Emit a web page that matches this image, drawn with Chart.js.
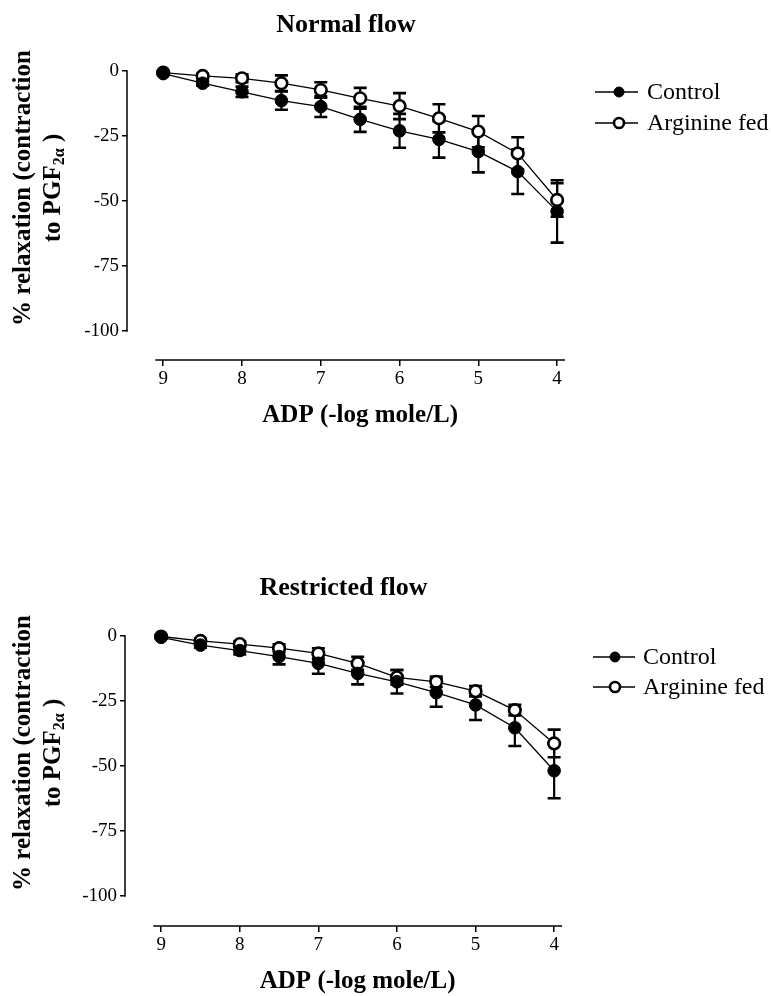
<!DOCTYPE html>
<html>
<head>
<meta charset="utf-8">
<script src="https://cdn.jsdelivr.net/npm/chart.js@4.4.1/dist/chart.umd.min.js"></script>
<style>
  html, body { margin: 0; padding: 0; background: #fff; overflow: hidden; }
  #wrap { position: relative; width: 771px; height: 996px; }
  canvas { position: absolute; left: 0; }
</style>
</head>
<body>
<div id="wrap">
  <canvas id="normalChart" width="771" height="498" style="top:0"></canvas>
  <canvas id="restrictedChart" width="771" height="520" style="top:498px"></canvas>
</div>
<script>
// ADP concentration, -log mole/L
const adpLevels = [9, 8.5, 8, 7.5, 7, 6.5, 6, 5.5, 5, 4.5, 4];
const xTicks = [9, 8, 7, 6, 5, 4];
const yTicks = [0, -25, -50, -75, -100];
const seriesNames = ['Control', 'Arginine fed'];

// normal flow (% relaxation, mean and SEM)
const normalControl = [-1, -4.7, -8, -11.4, -13.7, -18.6, -23, -26.3, -31, -38.7, -54];
const normalControlErr = [0.5, 1, 2, 3.5, 4, 4.8, 6.5, 7, 8, 8.6, 12];
const normalArginine = [-0.6, -1.9, -2.8, -4.7, -7.3, -10.5, -13.5, -18.2, -23.3, -31.7, -49.6];
const normalArginineErr = [0.5, 0.8, 1.5, 3, 3, 4, 5, 5.4, 6, 6.2, 6.4];

// restricted flow
const restrictedControl = [-0.5, -3.5, -5.6, -7.9, -10.5, -14.4, -17.6, -21.8, -26.5, -35.3, -51.8];
const restrictedControlErr = [0.5, 1, 1.5, 3, 4, 4.2, 4.5, 5.4, 5.8, 7, 10.6];
const restrictedArginine = [-0.2, -1.9, -3.1, -4.7, -6.7, -10.5, -15.9, -17.6, -21.2, -28.5, -41.3];
const restrictedArginineErr = [0.5, 0.8, 1, 1.5, 2, 2.5, 2.8, 2, 2, 2, 5.3];

const serif = "'Liberation Serif', 'Times New Roman', serif";

function points(vals, errs) {
    return adpLevels.map((x, i) => ({ x: x, y: vals[i], err: errs[i] }));
}

// error bars, offset axis lines, axis titles and the legend
const figurePlugin = {
    id: 'figure',
    beforeDatasetsDraw(chart) {
        const { ctx, scales: { x, y } } = chart;
        ctx.save();
        ctx.strokeStyle = '#000';
        chart.data.datasets.forEach(ds => {
            ds.data.forEach(p => {
                const px = x.getPixelForValue(p.x);
                const top = y.getPixelForValue(p.y + p.err);
                const bot = y.getPixelForValue(p.y - p.err);
                ctx.lineWidth = 2.2;
                ctx.beginPath();
                ctx.moveTo(px, top);
                ctx.lineTo(px, bot);
                ctx.stroke();
                ctx.lineWidth = 2.6;
                ctx.beginPath();
                ctx.moveTo(px - 6.5, top); ctx.lineTo(px + 6.5, top);
                ctx.moveTo(px - 6.5, bot); ctx.lineTo(px + 6.5, bot);
                ctx.stroke();
            });
        });
        ctx.restore();
    },
    afterDraw(chart, args, opts) {
        const { ctx, chartArea, scales: { x, y } } = chart;
        ctx.save();
        ctx.strokeStyle = '#000';
        ctx.fillStyle = '#000';

        // axes, drawn apart from each other
        ctx.lineWidth = 1.5;
        ctx.beginPath();
        ctx.moveTo(chartArea.left, y.getPixelForValue(yTicks[0]) - 0.75);
        ctx.lineTo(chartArea.left, y.getPixelForValue(yTicks[yTicks.length - 1]) + 0.75);
        const xa = x.getPixelForValue(opts.axisFrom), xb = x.getPixelForValue(opts.axisTo);
        ctx.moveTo(xa, chartArea.bottom);
        ctx.lineTo(xb, chartArea.bottom);
        ctx.stroke();

        // x title
        ctx.font = 'bold 25px ' + serif;
        ctx.textAlign = 'center';
        ctx.textBaseline = 'middle';
        ctx.fillText('ADP (-log mole/L)', (xa + xb) / 2, chartArea.bottom + 56);

        // y title with subscript
        const cy = y.getPixelForValue(-45);
        ctx.translate(24, cy);
        ctx.rotate(-Math.PI / 2);
        ctx.font = 'bold 25px ' + serif;
        ctx.fillText('% relaxation (contraction', 0, 0);
        const main = 'bold 25px ' + serif, sub = 'bold 16px ' + serif;
        ctx.font = main;
        const w1 = ctx.measureText('to PGF').width;
        const w3 = ctx.measureText(' )').width;
        ctx.font = sub;
        const w2 = ctx.measureText('2\u03b1').width;
        let sx = -(w1 + w2 + w3) / 2;
        ctx.textAlign = 'left';
        ctx.font = main;
        ctx.fillText('to PGF', sx, 30);
        ctx.font = sub;
        ctx.fillText('2\u03b1', sx + w1, 36);
        ctx.font = main;
        ctx.fillText(' )', sx + w1 + w2, 30);
        ctx.setTransform(1, 0, 0, 1, 0, 0);

        // legend: line through marker
        const leg = opts.legend;
        ctx.font = '24px ' + serif;
        ctx.textAlign = 'left';
        chart.data.datasets.forEach((ds, i) => {
            const ly = leg.rows[i];
            ctx.lineWidth = 1.4;
            ctx.beginPath();
            ctx.moveTo(leg.lineFrom, ly);
            ctx.lineTo(leg.lineTo, ly);
            ctx.stroke();
            ctx.beginPath();
            ctx.arc(leg.marker, ly, 5, 0, Math.PI * 2);
            ctx.fillStyle = ds.pointBackgroundColor;
            ctx.fill();
            ctx.lineWidth = ds.pointBorderWidth;
            ctx.stroke();
            ctx.fillStyle = '#000';
            ctx.fillText(ds.label, leg.text, ly + 1);
        });
        ctx.restore();
    }
};

function makePanel(id, cfg) {
    return new Chart(document.getElementById(id), {
        type: 'line',
        data: {
            datasets: [{
                label: seriesNames[0],
                data: points(cfg.control, cfg.controlErr),
                borderColor: '#000',
                borderWidth: 1.3,
                pointRadius: 6.3,
                pointBackgroundColor: '#000',
                pointBorderColor: '#000',
                pointBorderWidth: 1,
                clip: false
            }, {
                label: seriesNames[1],
                data: points(cfg.arginine, cfg.arginineErr),
                borderColor: '#000',
                borderWidth: 1.3,
                pointRadius: 5.8,
                pointBackgroundColor: '#fff',
                pointBorderColor: '#000',
                pointBorderWidth: 2.6,
                clip: false
            }]
        },
        options: {
            responsive: false,
            animation: false,
            layout: { padding: { left: 0, right: cfg.padRight, top: 0, bottom: 0 } },
            plugins: {
                legend: { display: false },
                tooltip: { enabled: false },
                title: {
                    display: true,
                    text: cfg.title,
                    fullSize: false,
                    color: '#000',
                    font: { family: serif, size: 26, weight: 'bold' },
                    padding: cfg.titlePad
                },
                figure: { axisFrom: 9.1, axisTo: 3.9, legend: cfg.legend }
            },
            scales: {
                x: {
                    type: 'linear',
                    reverse: true,
                    min: 3.9,
                    max: 9.46,
                    afterBuildTicks: s => { s.ticks = xTicks.map(v => ({ value: v })); },
                    afterFit: s => { s.height = cfg.xHeight; },
                    border: { display: false },
                    grid: { drawOnChartArea: false, color: '#000', lineWidth: 1.5, tickLength: 6 },
                    ticks: { color: '#000', padding: 2, maxRotation: 0, font: { family: serif, size: 19 } }
                },
                y: {
                    min: cfg.yMin,
                    max: 0,
                    afterBuildTicks: s => { s.ticks = yTicks.map(v => ({ value: v })); },
                    afterFit: s => { s.width = cfg.yWidth; },
                    border: { display: false },
                    grid: { drawOnChartArea: false, color: '#000', lineWidth: 1.5, tickLength: 5 },
                    ticks: { color: '#000', padding: 3, font: { family: serif, size: 19 } }
                }
            }
        },
        plugins: [figurePlugin]
    });
}

makePanel('normalChart', {
    title: 'Normal flow',
    control: normalControl, controlErr: normalControlErr,
    arginine: normalArginine, arginineErr: normalArginineErr,
    yMin: -111.15, xHeight: 138, yWidth: 127, padRight: 206,
    titlePad: { top: 9.4, bottom: 30.4 },
    legend: { rows: [92, 123], lineFrom: 595, lineTo: 638, marker: 619, text: 647 }
});

makePanel('restrictedChart', {
    title: 'Restricted flow',
    control: restrictedControl, controlErr: restrictedControlErr,
    arginine: restrictedArginine, arginineErr: restrictedArginineErr,
    yMin: -111.5, xHeight: 92, yWidth: 125, padRight: 209,
    titlePad: { top: 74.4, bottom: 32.4 },
    legend: { rows: [159, 189], lineFrom: 593, lineTo: 635, marker: 615, text: 643 }
});
</script>
</body>
</html>
